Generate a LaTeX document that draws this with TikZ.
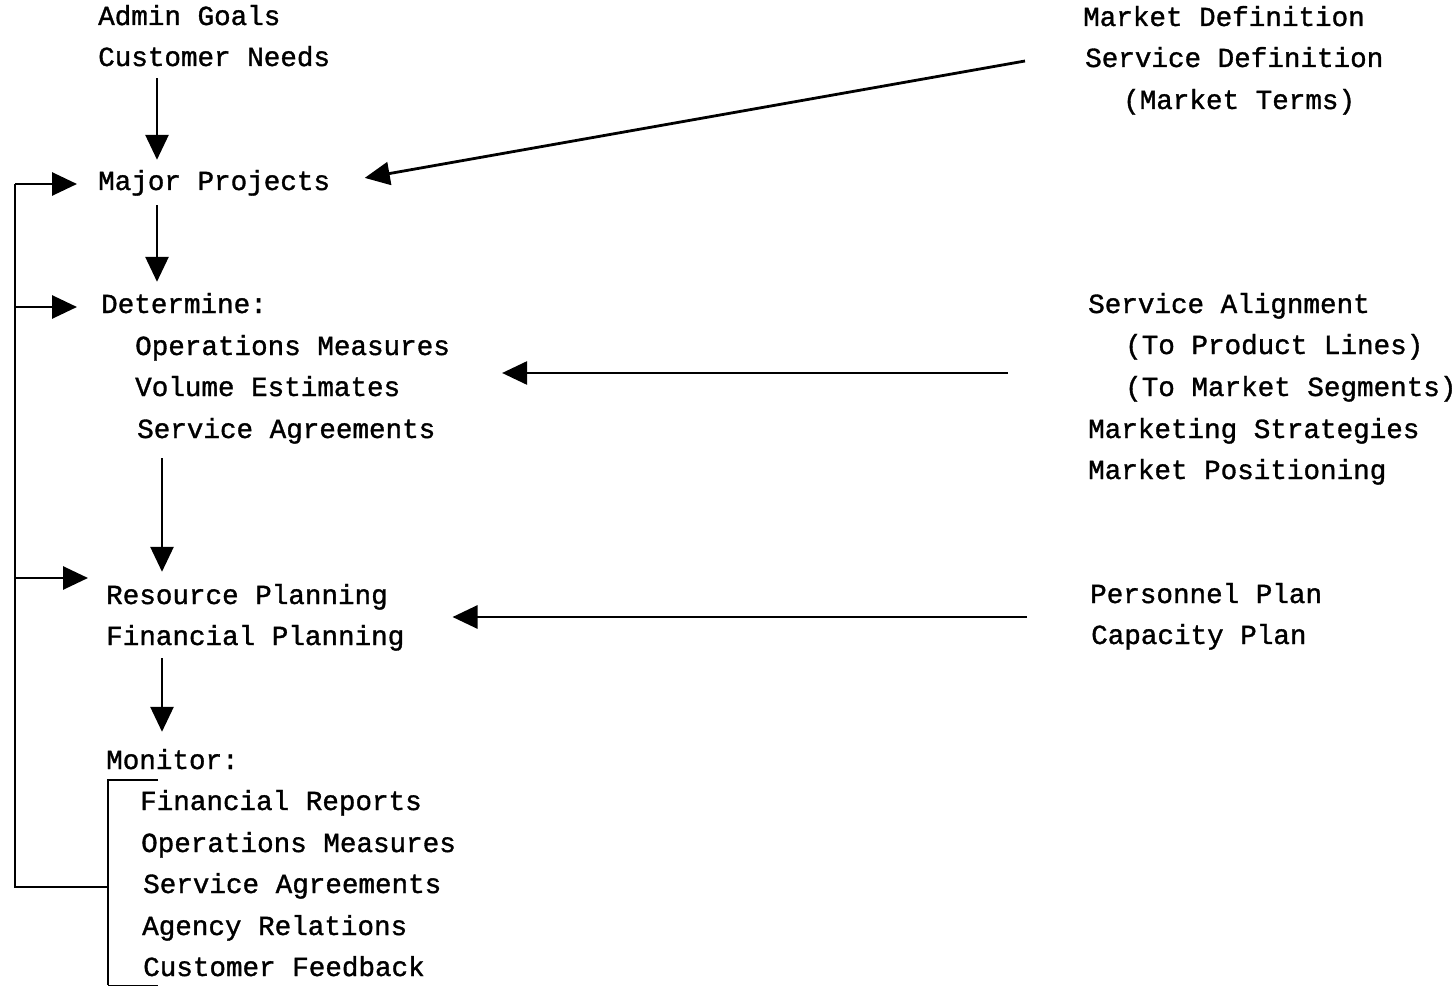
\documentclass[tikz,border=0pt]{standalone}
\usepackage{fontspec}
\setmainfont[FakeBold=1.2]{Liberation Mono}
\usetikzlibrary{arrows.meta}

\tikzset{
  lbl/.style={anchor=base west, inner sep=0pt, text height=18pt, text depth=6pt,
    font=\fontsize{27.6}{30}\selectfont},
  arr/.style={-{Triangle[length=25pt,width=23pt]}, line width=2.8pt},
  ln/.style={line width=2.8pt},
}

\begin{document}
\begin{tikzpicture}[x=1pt,y=-1pt]
\useasboundingbox (0,0) rectangle (1454,987);
% left column
\node[lbl] (goals) at (98,25){Admin Goals};
\node[lbl] (needs) at (98,66){Customer Needs};
\node[lbl] (major) at (98,190){Major Projects};
\node[lbl] (det) at (101,313){Determine:};
\node[lbl] (opm) at (135,355){Operations Measures};
\node[lbl] (vol) at (135,396){Volume Estimates};
\node[lbl] (sag) at (137,438){Service Agreements};
\node[lbl] (res) at (106,604){Resource Planning};
\node[lbl] (fin) at (106,645){Financial Planning};
\node[lbl] (mon) at (106,769){Monitor:};
\node[lbl] (mfin) at (140,810){Financial Reports};
\node[lbl] (mopm) at (141,852){Operations Measures};
\node[lbl] (msag) at (143,893){Service Agreements};
\node[lbl] (magy) at (142,935){Agency Relations};
\node[lbl] (mcust) at (143,976){Customer Feedback};
% right column
\node[lbl] (mdef) at (1083,26){Market Definition};
\node[lbl] (sdef) at (1085,67){Service Definition};
\node[lbl] (mterm) at (1123,109){(Market Terms)};
\node[lbl] (salign) at (1088,313){Service Alignment};
\node[lbl] (prod) at (1125,354){(To Product Lines)};
\node[lbl] (seg) at (1125,396){(To Market Segments)};
\node[lbl] (mstrat) at (1088,438){Marketing Strategies};
\node[lbl] (mpos) at (1088,479){Market Positioning};
\node[lbl] (pers) at (1090,603){Personnel Plan};
\node[lbl] (cap) at (1091,644){Capacity Plan};

\coordinate (colA) at (157,0);
\coordinate (colB) at (162,0);
\coordinate (defin) at (1025,61);
\coordinate (svcin) at (1008,373);
\coordinate (planin) at (1027,617);
\coordinate (resin) at ([yshift=20pt]res.west);
\coordinate (brk) at (108,887);
\coordinate (fbbot) at (15,887);

% main flow
\draw[arr, shorten <=6pt, shorten >=12pt] (needs.south -| colA) -- (major.north -| colA);
\draw[arr, shorten <=9pt, shorten >=13pt] (major.south -| colA) -- (det.north -| colA);
\draw[arr, shorten <=14pt, shorten >=14pt] (sag.south -| colB) -- (res.north -| colB);
\draw[arr, shorten <=7pt, shorten >=19pt] (fin.south -| colB) -- (mon.north -| colB);

% inputs from the right
\draw[arr, shorten >=35pt] (defin) -- (major.east);
\draw[arr, shorten >=52pt] (svcin) -- (svcin -| opm.east);
\draw[arr, shorten >=48pt] (planin) -- (planin -| fin.east);

% monitor bracket and feedback loop
\draw[ln] (158,780) -- (108,780) -- (108,985);
\draw[line width=1pt] (108,985) -- (158,985);
\draw[ln] (brk) -- (fbbot) -- (fbbot |- major.west);
\draw[arr, shorten >=21pt] (fbbot |- major.west) -- (major.west);
\draw[arr, shorten >=24pt] (fbbot |- det.west) -- (det.west);
\draw[arr, shorten >=18pt] (fbbot |- resin) -- (resin);
\end{tikzpicture}
\end{document}
